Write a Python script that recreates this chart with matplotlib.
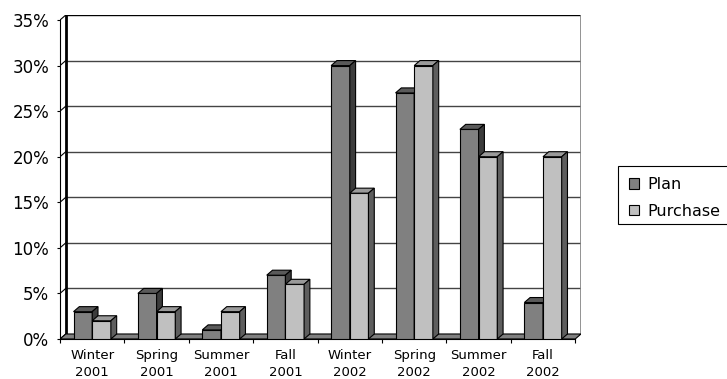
import numpy as np
import matplotlib.pyplot as plt
from matplotlib.patches import Polygon, Patch, Rectangle

seasons = ["Winter\n2001", "Spring\n2001", "Summer\n2001", "Fall\n2001",
           "Winter\n2002", "Spring\n2002", "Summer\n2002", "Fall\n2002"]
plan = [3, 5, 1, 7, 30, 27, 23, 4]
purchase = [2, 3, 3, 6, 16, 30, 20, 20]
y_ticks = [0, 5, 10, 15, 20, 25, 30, 35]
series_names = ["Plan", "Purchase"]

plt.rcParams["font.family"] = ["DejaVu Sans"]

# depth of the pseudo-3D look, in data units (x: categories, y: percent)
DX, DY = 0.09, 0.55
BAR_W = 0.29

faces = [
    dict(front="#808080", top="#5a5a5a", side="#3c3c3c"),
    dict(front="#c0c0c0", top="#9a9a9a", side="#5e5e5e"),
]

W, H = 727, 379
fig = plt.figure(figsize=(W / 100, H / 100), dpi=100)
ax = fig.add_axes([60 / W, 40 / H, 521 / W, 324 / H])

n = len(seasons)
x = np.arange(n)
ymax = y_ticks[-1]
left, right = -0.5, n - 0.5
ax.set_xlim(left, right + DX)
ax.set_ylim(0, ymax + DY)


def draw_column(x0, h, face, z):
    ax.bar(x0, h, width=BAR_W, align="edge", color=face["front"],
           edgecolor="black", linewidth=0.8, zorder=z)
    top = [(x0, h), (x0 + BAR_W, h), (x0 + BAR_W + DX, h + DY), (x0 + DX, h + DY)]
    side = [(x0 + BAR_W, 0), (x0 + BAR_W, h), (x0 + BAR_W + DX, h + DY),
            (x0 + BAR_W + DX, DY)]
    ax.add_patch(Polygon(top, closed=True, facecolor=face["top"],
                         edgecolor="black", linewidth=0.8, zorder=z))
    ax.add_patch(Polygon(side, closed=True, facecolor=face["side"],
                         edgecolor="black", linewidth=0.8, zorder=z))


# back wall grid and frame
for v in y_ticks[1:-1]:
    ax.plot([left + DX, right + DX], [v + DY, v + DY], color="#444444", lw=1, zorder=1)
for v in y_ticks:
    ax.plot([left, left + DX], [v, v + DY], color="black", lw=0.8, zorder=1)
ax.plot([left + DX, right + DX], [ymax + DY, ymax + DY], color="black", lw=1, zorder=1)
ax.plot([left + DX, left + DX], [DY, ymax + DY], color="black", lw=2, zorder=1)
ax.plot([right + DX, right + DX], [DY, ymax + DY], color="#808080", lw=1.2, zorder=1)

# floor
floor = [(left, 0), (right, 0), (right + DX, DY), (left + DX, DY)]
ax.add_patch(Polygon(floor, closed=True, facecolor="#808080",
                     edgecolor="black", linewidth=0.8, zorder=2))

for i in range(n):
    draw_column(x[i] - BAR_W, plan[i], faces[0], 3)
    draw_column(x[i], purchase[i], faces[1], 4)

# axes styling
for s in ("top", "right"):
    ax.spines[s].set_visible(False)
ax.spines["left"].set_bounds(0, ymax)
ax.spines["bottom"].set_bounds(left, right)
ax.spines["left"].set_linewidth(0.8)
ax.spines["bottom"].set_linewidth(0.8)

ax.set_yticks(y_ticks)
ax.set_yticklabels([f"{v}%" for v in y_ticks])
ax.tick_params(axis="y", direction="out", length=2.2, width=0.8, pad=5.5, labelsize=12)

ax.set_xticks(np.arange(n + 1) - 0.5)
ax.set_xticklabels([])
ax.set_xticks(x, minor=True)
ax.set_xticklabels(seasons, minor=True, fontsize=9.5, linespacing=1.4)
ax.tick_params(axis="x", which="major", direction="out", length=3, width=0.8)
ax.tick_params(axis="x", which="minor", length=0, pad=7)

# legend box runs past the right edge of the canvas
fig.add_artist(Rectangle((618 / W, 1 - 224 / H), 130 / W, 58 / H,
                         transform=fig.transFigure, facecolor="white",
                         edgecolor="black", linewidth=0.8, clip_on=False))
handles = [Patch(facecolor=faces[k]["front"], edgecolor="black", linewidth=0.8)
           for k in range(2)]
leg = fig.legend(handles, series_names, loc="upper left",
                 bbox_to_anchor=(618 / W, 1 - 166 / H),
                 bbox_transform=fig.transFigure, frameon=False, fontsize=11.5,
                 handlelength=0.62, handleheight=0.62, handletextpad=0.5,
                 labelspacing=0.72, borderpad=0.7, borderaxespad=0)

fig.savefig("out.png", dpi=100)
